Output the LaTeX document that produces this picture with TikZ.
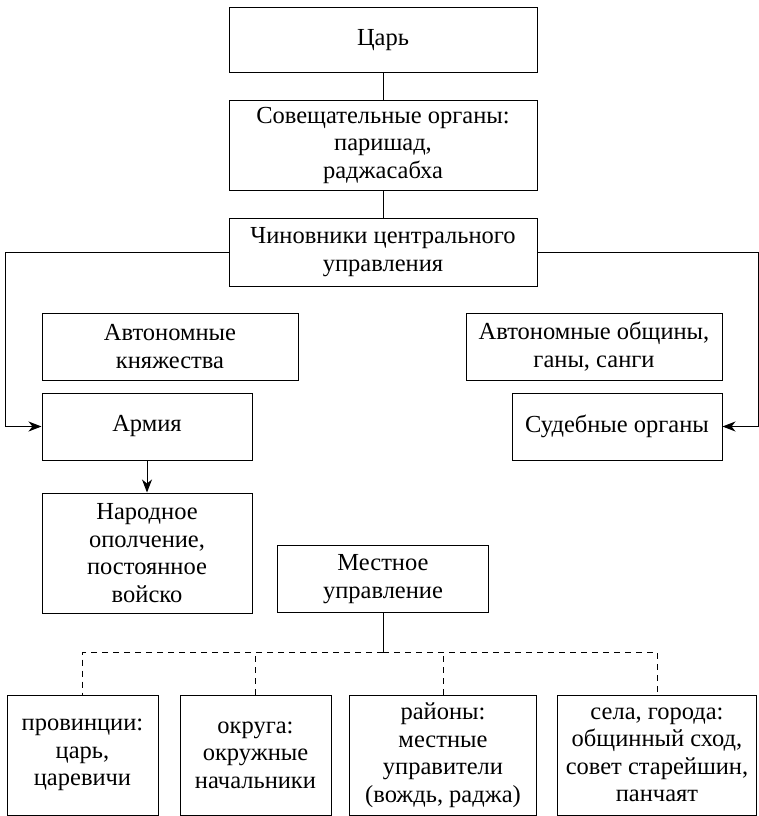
\documentclass[tikz,border=0pt]{standalone}
\usepackage{fontspec}
\setmainfont{Liberation Serif}
\usetikzlibrary{arrows.meta}
\begin{document}
\begin{tikzpicture}[x=1pt,y=-1pt,
  box/.style={draw,line width=1pt,align=center,inner sep=1pt,
    font=\fontsize{24.5}{27.5}\selectfont},
  conn/.style={line width=1pt},
  arr/.style={line width=1pt,-{Stealth[length=13pt,width=10pt,inset=4pt]}},
  dconn/.style={line width=1pt,dash pattern=on 6pt off 5pt}]
\useasboundingbox (0,0) rectangle (759,816);
\node[box,minimum width=308pt,minimum height=64pt] (tsar) at (383,40) {Царь};
\node[box,minimum width=308pt,minimum height=90pt] (sov) at (383,145) {Совещательные органы:\\паришад,\\раджасабха};
\node[box,minimum width=308pt,minimum height=68pt] (chin) at (383,252) {Чиновники центрального\\управления};
\node[box,minimum width=256pt,minimum height=67pt] (avtk) at (170,346.5) {Автономные\\княжества};
\node[box,minimum width=210pt,minimum height=67pt] (army) at (147,426.5) {Армия};
\node[box,minimum width=210pt,minimum height=120pt] (narod) at (147,553) {Народное\\ополчение,\\постоянное\\войско};
\node[box,minimum width=256pt,minimum height=67pt] (avto) at (594,346.5) {Автономные общины,\\ганы, санги};
\node[box,minimum width=210pt,minimum height=67pt] (sud) at (617,426.5) {Судебные органы};
\node[box,minimum width=211pt,minimum height=67pt] (mest) at (383,579) {Местное\\управление};
\node[box,minimum width=151pt,minimum height=120pt] (p1) at (82.5,755) {провинции:\\царь,\\царевичи};
\node[box,minimum width=151pt,minimum height=120pt] (p2) at (255.5,755) {округа:\\окружные\\начальники};
\node[box,minimum width=187pt,minimum height=120pt] (p3) at (443,755) {районы:\\местные\\управители\\(вождь, раджа)};
\node[box,minimum width=199pt,minimum height=120pt] (p4) at (657,755) {села, города:\\общинный сход,\\совет старейшин,\\панчаят};
\coordinate (lc) at (5,252);
\coordinate (rc) at (758,252);
\coordinate (mc) at (383,652);
\draw[conn] (tsar) -- (sov);
\draw[conn] (sov) -- (chin);
\draw[arr] (chin.west) -- (lc) |- (army.west);
\draw[arr] (chin.east) -- (rc) |- (sud.east);
\draw[arr] (army) -- (narod);
\draw[conn] (mest) -- (mc);
\draw[dconn] (mc) -| (p1.north);
\draw[dconn] (mc) -| (p4.north);
\draw[dconn] (p2.north) -- (p2.north |- mc);
\draw[dconn] (p3.north) -- (p3.north |- mc);
\end{tikzpicture}
\end{document}
